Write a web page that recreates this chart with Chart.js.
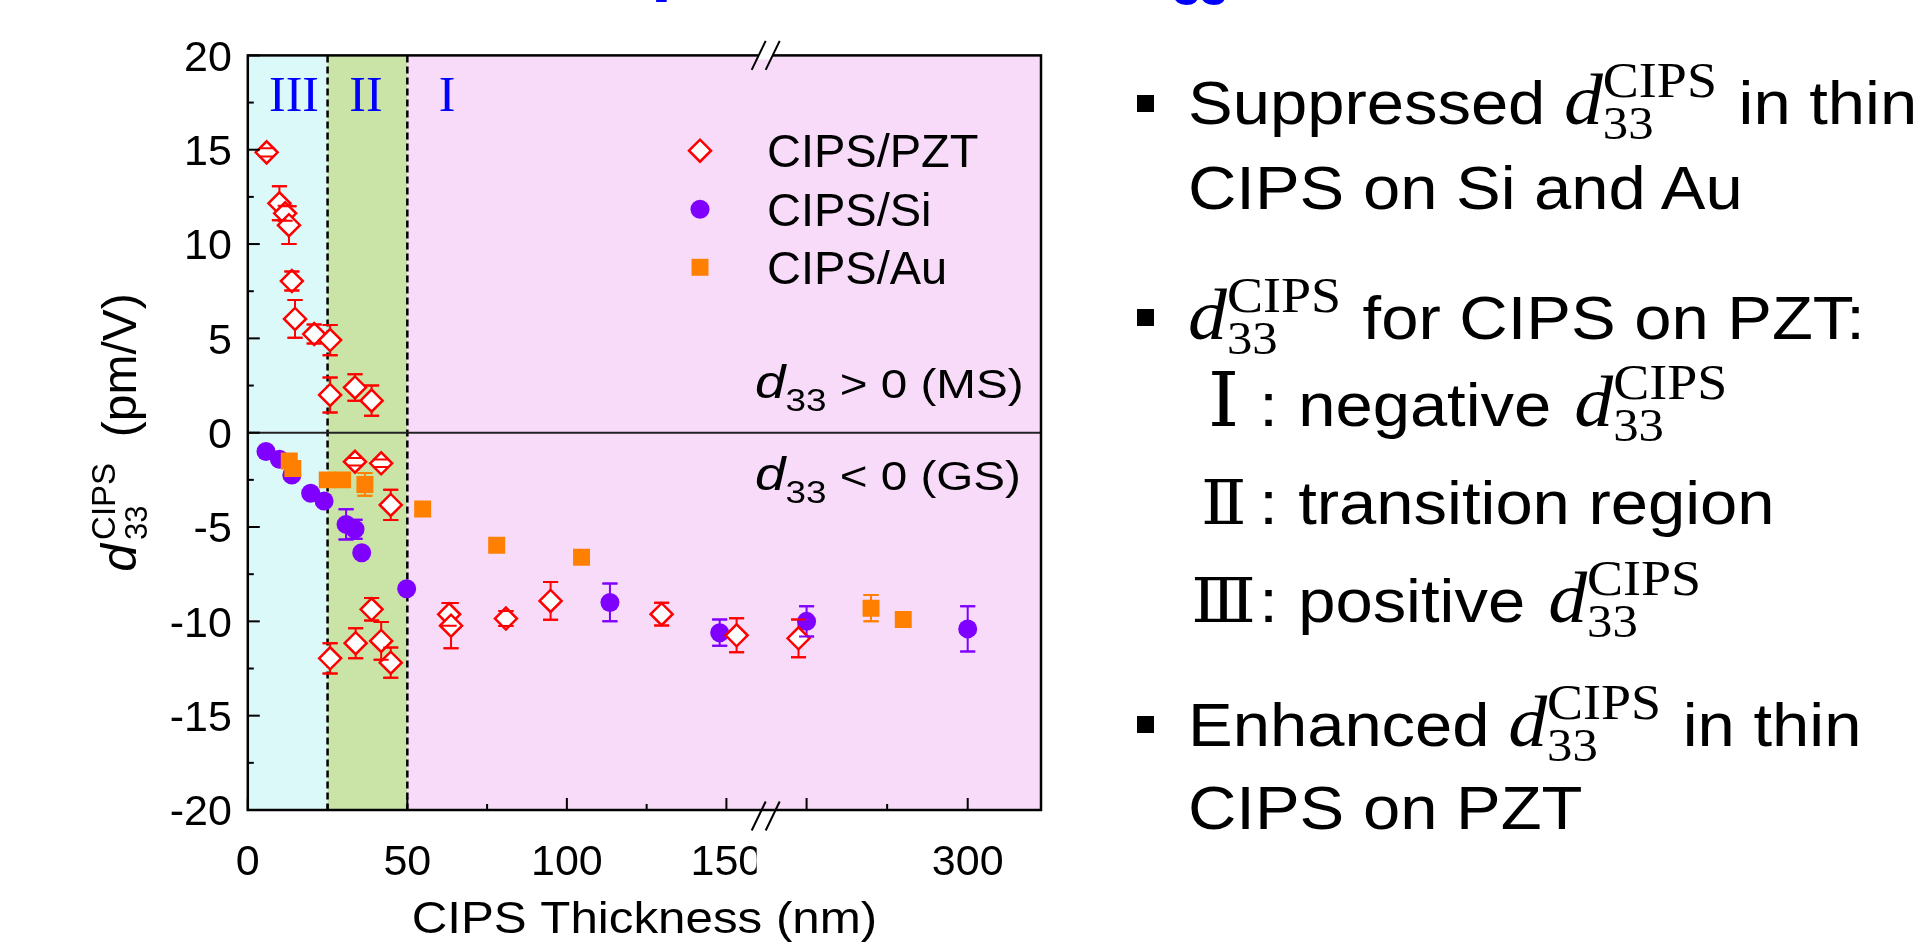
<!DOCTYPE html>
<html>
<head>
<meta charset="utf-8">
<script src="https://cdn.jsdelivr.net/npm/chart.js@4.4.1/dist/chart.umd.min.js"></script>
<style>
  body { margin: 0; width: 1931px; height: 950px; overflow: hidden; position: relative; background: #fff;
         font-family: "Liberation Sans", Arial, sans-serif; }
  #c { position: absolute; left: 0; top: 0; }
  .title { position: absolute; left: 163px; top: -79px; font: bold 77px/77px "Liberation Sans", Arial, sans-serif;
           color: #0000ff; white-space: nowrap; }
  .title sub { font-size: 49px; line-height: 0; position: relative; top: 19px; vertical-align: baseline; }
  .notes { position: absolute; left: 1188px; top: 0; width: 800px; height: 950px; transform: scaleX(1.08);
           transform-origin: 0 0; font-size: 62px; color: #000; }
  .ln { position: absolute; left: 0; white-space: nowrap; line-height: 62px; height: 62px; }
  .ln span { line-height: 0; }
  .d { font: italic 72px "Liberation Serif", "DejaVu Serif", serif; margin-left: 4px; }
  .ln .d:first-child { margin-left: 0; }
  .sb, .sp { font: 47px "Liberation Serif", "DejaVu Serif", serif; position: relative; }
  .sb { top: 15px; }
  .sp { font-size: 50px; top: -27px; margin-left: -47px; margin-right: 20px; }
  .rn { display: inline-block; width: 66px; text-align: center; font: 62px "DejaVu Serif", serif; }
  .rn.big { font-size: 74px; }
  .col { display: inline-block; width: 36px; }
  .bul { position: absolute; left: 1137px; width: 17px; height: 17px; background: #000; }
</style>
</head>
<body>
<canvas id="c" width="1931" height="950"></canvas>
<div class="title">Thickness dependence of d<sub>33</sub></div>

<div class="bul" style="top:95px"></div>
<div class="bul" style="top:309px"></div>
<div class="bul" style="top:716px"></div>
<div class="notes">
  <div class="ln" style="top:72px">Suppressed <span class="d">d</span><span class="sb">33</span><span class="sp">CIPS</span>in thin</div>
  <div class="ln" style="top:157px">CIPS on Si and Au</div>
  <div class="ln" style="top:287px"><span class="d">d</span><span class="sb">33</span><span class="sp">CIPS</span>for CIPS on PZT:</div>
  <div class="ln" style="top:374px"><span class="rn big">Ⅰ</span><span class="col">:</span>negative <span class="d">d</span><span class="sb">33</span><span class="sp">CIPS</span></div>
  <div class="ln" style="top:472px"><span class="rn">Ⅱ</span><span class="col">:</span>transition region</div>
  <div class="ln" style="top:570px"><span class="rn">Ⅲ</span><span class="col">:</span>positive <span class="d">d</span><span class="sb">33</span><span class="sp">CIPS</span></div>
  <div class="ln" style="top:694px">Enhanced <span class="d">d</span><span class="sb">33</span><span class="sp">CIPS</span>in thin</div>
  <div class="ln" style="top:777px">CIPS on PZT</div>
</div>

<script>
// CIPS thickness (nm), d33 (pm/V) and error bar half-height, per substrate
const pztThickness = [5.9, 9.9, 11.7, 12.9, 13.8, 14.8, 20.8, 25.8, 25.8, 33.6, 38.8,
                      33.6, 41.8, 44.8, 38.8, 25.8, 33.8, 41.8, 44.8, 63.1, 63.7, 80.9, 94.9, 129.7, 153.2, 195];
const pztD33 = [14.86, 12.16, 11.63, 11.0, 8.04, 6.03, 5.23, 4.91, 2.0, 2.4, 1.7,
                -1.54, -1.62, -3.83, -9.36, -11.96, -11.16, -11.04, -12.19, -9.63, -10.23, -9.85, -8.92, -9.62, -10.74, -10.9];
const pztError = [0.22, 0.9, 0.4, 1.0, 0.5, 1.0, 0.5, 0.8, 0.93, 0.7, 0.8,
                  0.2, 0.2, 0.8, 0.6, 0.8, 0.8, 1.0, 0.8, 0.6, 1.2, 0.4, 1.0, 0.6, 0.9, 1.0];

const siThickness = [5.7, 9.9, 13.8, 19.7, 23.9, 30.8, 33.6, 35.7, 49.8, 113.5, 147.9, 200, 300];
const siD33 = [-1.0, -1.41, -2.24, -3.21, -3.62, -4.86, -5.12, -6.36, -8.27, -9.0, -10.6, -10.0, -10.4];
const siError = [0, 0, 0, 0, 0, 0.8, 0.5, 0.2, 0, 1.0, 0.7, 0.8, 1.2];

const auThickness = [13.0, 14.1, 24.9, 29.7, 36.7, 54.8, 78, 104.6, 240, 260];
const auD33 = [-1.5, -1.9, -2.5, -2.5, -2.74, -4.04, -5.97, -6.6, -9.3, -9.9];
const auError = [0.3, 0.3, 0.3, 0, 0.6, 0, 0, 0, 0.7, 0];

const seriesNames = ['CIPS/PZT', 'CIPS/Si', 'CIPS/Au'];
const regionEdges = [0, 25, 50];          // nm, start of regions III, II, I
const regionNames = ['III', 'II', 'I'];

const xTickValues = [0, 50, 100, 150, 300];
const xTickLabels = ['0', '50', '100', '150', '300'];
const xBareTicks = [200];
const xMinorTicks = [25, 75, 125, 250];
const yTickValues = [-20, -15, -10, -5, 0, 5, 10, 15, 20];
const yMinorTicks = [-17.5, -12.5, -7.5, -2.5, 2.5, 7.5, 12.5, 17.5];

// broken x axis: linear up to the break, then compressed
const BREAK_AT = 162;
const SEG2_FROM = 174;
const SEG2_SCALE = 0.505;
const X_END = 248.6;
function axisX(t) { return t <= BREAK_AT ? t : BREAK_AT + (t - SEG2_FROM) * SEG2_SCALE; }

const RED = '#ff0000', PURPLE = '#8000ff', ORANGE = '#ff8000';
const regionColors = ['#dcf9fa', '#c9e4a6', '#f7dbf9'];
const FONT = '"Liberation Sans", Arial, sans-serif';

function points(xs, ys) { return xs.map((t, i) => ({ x: axisX(t), y: ys[i] })); }

function line(ctx, x1, y1, x2, y2) {
    ctx.beginPath(); ctx.moveTo(x1, y1); ctx.lineTo(x2, y2); ctx.stroke();
}

function drawErrorBars(chart, capsOnly) {
    const { ctx, scales: { y } } = chart;
    chart.data.datasets.forEach((ds, i) => {
        const meta = chart.getDatasetMeta(i);
        ctx.save();
        ctx.strokeStyle = ds.borderColor;
        ctx.lineWidth = 2;
        meta.data.forEach((pt, j) => {
            const e = ds.errors[j];
            if (!e) return;
            const v = ds.data[j].y;
            const top = y.getPixelForValue(v + e), bot = y.getPixelForValue(v - e);
            ctx.beginPath();
            if (!capsOnly) { ctx.moveTo(pt.x, top); ctx.lineTo(pt.x, bot); }
            ctx.moveTo(pt.x - 7.5, top); ctx.lineTo(pt.x + 7.5, top);
            ctx.moveTo(pt.x - 7.5, bot); ctx.lineTo(pt.x + 7.5, bot);
            ctx.stroke();
        });
        ctx.restore();
    });
}

function drawMarker(ctx, ds, x, y) {
    const r = ds.pointRadius;
    ctx.save();
    ctx.fillStyle = ds.backgroundColor;
    ctx.strokeStyle = ds.borderColor;
    ctx.lineWidth = ds.borderWidth;
    ctx.beginPath();
    if (ds.pointStyle === 'rectRot') {
        ctx.moveTo(x - r, y); ctx.lineTo(x, y - r); ctx.lineTo(x + r, y); ctx.lineTo(x, y + r); ctx.closePath();
    } else if (ds.pointStyle === 'rect') {
        const s = r * Math.SQRT1_2;
        ctx.rect(x - s, y - s, 2 * s, 2 * s);
    } else {
        ctx.arc(x, y, r, 0, Math.PI * 2);
    }
    ctx.fill();
    if (ds.borderWidth) ctx.stroke();
    ctx.restore();
}

function drawD33(ctx, x, y, rest) {
    ctx.save();
    ctx.translate(x, y);
    ctx.scale(1.19, 1);
    ctx.fillStyle = '#000';
    ctx.textAlign = 'left';
    ctx.font = 'italic 46px ' + FONT;
    ctx.fillText('d', 0, 0);
    let cx = ctx.measureText('d').width;
    ctx.font = '31px ' + FONT;
    ctx.fillText('33', cx, 13);
    cx += ctx.measureText('33').width;
    ctx.font = '40px ' + FONT;
    ctx.fillText(rest, cx, 0);
    ctx.restore();
}

function drawBreak(ctx, xb, yc) {
    const h = 29, dx = 14;
    // white gap over the axis line between the two slashes
    ctx.save();
    ctx.beginPath();
    ctx.rect(xb - 30, yc - 4, 60, 8);
    ctx.clip();
    ctx.fillStyle = '#fff';
    ctx.beginPath();
    ctx.moveTo(xb - dx, yc + h / 2); ctx.lineTo(xb, yc - h / 2);
    ctx.lineTo(xb + dx, yc - h / 2); ctx.lineTo(xb, yc + h / 2); ctx.closePath();
    ctx.fill();
    ctx.restore();
    ctx.save();
    ctx.strokeStyle = '#000';
    ctx.lineWidth = 2;
    line(ctx, xb - dx, yc + h / 2, xb, yc - h / 2);
    line(ctx, xb, yc + h / 2, xb + dx, yc - h / 2);
    ctx.restore();
}

const decor = {
    id: 'decor',
    beforeDatasetsDraw(chart) {
        const { ctx, chartArea: a, scales: { x, y } } = chart;
        const edges = regionEdges.map(t => x.getPixelForValue(axisX(t))).concat(a.right);
        ctx.save();
        regionColors.forEach((c, i) => {
            ctx.fillStyle = c;
            ctx.fillRect(edges[i], a.top, edges[i + 1] - edges[i], a.bottom - a.top);
        });
        // region boundaries
        ctx.strokeStyle = '#000';
        ctx.lineWidth = 2.5;
        ctx.setLineDash([7, 4]);
        edges.slice(1, 3).forEach(px => line(ctx, px, a.top, px, a.bottom));
        ctx.setLineDash([]);
        // zero line
        ctx.strokeStyle = '#222';
        ctx.lineWidth = 2;
        const y0 = y.getPixelForValue(0);
        line(ctx, a.left, y0, a.right, y0);
        // region names
        ctx.fillStyle = '#0000ff';
        ctx.font = '50px "Liberation Serif", "Times New Roman", serif';
        ctx.textAlign = 'center';
        const centers = [294, 366, 447];
        regionNames.forEach((n, i) => ctx.fillText(n, centers[i], 111));
        ctx.restore();
        drawErrorBars(chart, false);
    },
    afterDatasetsDraw(chart) {
        const { ctx, chartArea: a, scales: { x, y } } = chart;
        drawErrorBars(chart, true);
        ctx.save();
        ctx.strokeStyle = '#000';
        ctx.lineWidth = 2;
        // inward ticks
        yTickValues.forEach(v => { const py = y.getPixelForValue(v); line(ctx, a.left, py, a.left + 12, py); });
        yMinorTicks.forEach(v => { const py = y.getPixelForValue(v); line(ctx, a.left, py, a.left + 6, py); });
        xTickValues.concat(xBareTicks).forEach(t => { const px = x.getPixelForValue(axisX(t)); line(ctx, px, a.bottom, px, a.bottom - 12); });
        xMinorTicks.forEach(t => { const px = x.getPixelForValue(axisX(t)); line(ctx, px, a.bottom, px, a.bottom - 6); });
        // frame
        ctx.lineWidth = 2.5;
        ctx.strokeRect(a.left, a.top, a.right - a.left, a.bottom - a.top);
        const xb = x.getPixelForValue(BREAK_AT) + 1;
        drawBreak(ctx, xb, a.top);
        drawBreak(ctx, xb, a.bottom + 6);

        // tick labels
        ctx.fillStyle = '#000';
        ctx.font = '43px ' + FONT;
        ctx.textAlign = 'right';
        yTickValues.forEach(v => ctx.fillText(String(v), a.left - 16, y.getPixelForValue(v) + 15.4));
        ctx.textAlign = 'center';
        xTickValues.forEach((t, i) => ctx.fillText(xTickLabels[i], x.getPixelForValue(axisX(t)), 875));
        ctx.fillStyle = '#fff';
        ctx.fillRect(xb - 9, 838, 40, 42);

        // axis titles
        ctx.fillStyle = '#000';
        ctx.save();
        ctx.translate((a.left + a.right) / 2, 933);
        ctx.scale(1.12, 1);
        ctx.font = '44px ' + FONT;
        ctx.fillText('CIPS Thickness (nm)', 0, 0);
        ctx.restore();

        ctx.save();
        ctx.translate(136, (a.top + a.bottom) / 2);
        ctx.rotate(-Math.PI / 2);
        ctx.textAlign = 'left';
        let tx = -139;
        ctx.font = 'italic 50px ' + FONT;
        ctx.fillText('d', tx, 0);
        tx += ctx.measureText('d').width + 4;
        ctx.font = '31px ' + FONT;
        ctx.fillText('33', tx, 11);
        ctx.font = '33px ' + FONT;
        ctx.fillText('CIPS', tx, -21);
        ctx.font = '48px ' + FONT;
        ctx.textAlign = 'right';
        ctx.fillText('(pm/V)', 139.5, 0);
        ctx.restore();

        // legend
        const legendY = [150.7, 209.3, 267.3];
        chart.data.datasets.forEach((ds, i) => {
            drawMarker(ctx, ds, 700, legendY[i]);
            ctx.fillStyle = '#000';
            ctx.font = '47px ' + FONT;
            ctx.textAlign = 'left';
            ctx.fillText(seriesNames[i], 767, legendY[i] + 16.6);
        });

        drawD33(ctx, 755, 398, ' > 0 (MS)');
        drawD33(ctx, 755, 490, ' < 0 (GS)');
        ctx.restore();
    }
};

const chart = new Chart(document.getElementById('c'), {
    type: 'scatter',
    data: {
        datasets: [
            { label: seriesNames[0], data: points(pztThickness, pztD33), errors: pztError,
              pointStyle: 'rectRot', pointRadius: 11, borderWidth: 2.5,
              borderColor: RED, backgroundColor: '#fff', order: 1 },
            { label: seriesNames[1], data: points(siThickness, siD33), errors: siError,
              pointStyle: 'circle', pointRadius: 9.5, borderWidth: 0,
              borderColor: PURPLE, backgroundColor: PURPLE, order: 3 },
            { label: seriesNames[2], data: points(auThickness, auD33), errors: auError,
              pointStyle: 'rect', pointRadius: 12, borderWidth: 0,
              borderColor: ORANGE, backgroundColor: ORANGE, order: 2 }
        ]
    },
    options: {
        responsive: false,
        animation: false,
        devicePixelRatio: 1,
        events: [],
        layout: { padding: { left: 247.8, top: 55.4, right: 890, bottom: 140 } },
        scales: {
            x: { type: 'linear', min: 0, max: X_END, display: false },
            y: { type: 'linear', min: -20, max: 20, display: false }
        },
        plugins: { legend: { display: false }, tooltip: { enabled: false } }
    },
    plugins: [decor]
});
</script>
</body>
</html>
